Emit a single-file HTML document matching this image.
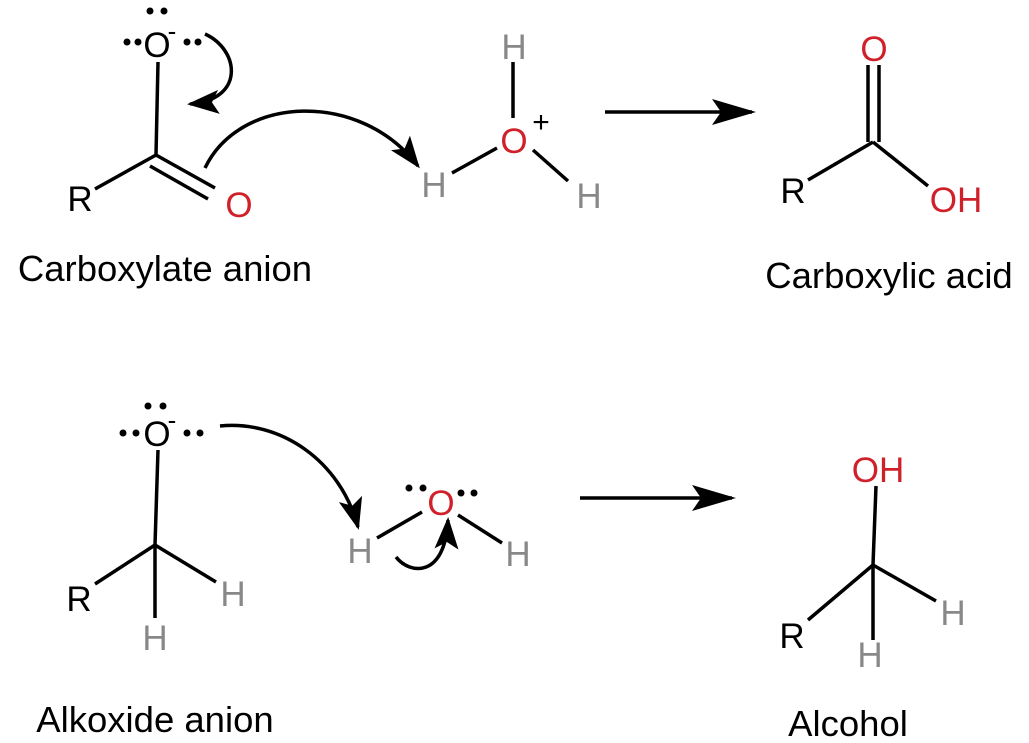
<!DOCTYPE html>
<html><head><style>body{margin:0;background:#fff}svg{display:block}text{font-family:"Liberation Sans",sans-serif}</style></head>
<body>
<svg width="1029" height="743" viewBox="0 0 1029 743" xmlns="http://www.w3.org/2000/svg">
<defs>
<marker id="ah2" markerWidth="44" markerHeight="26" refX="40" refY="13" orient="auto" markerUnits="userSpaceOnUse"><path d="M0,0 L44,13 L0,26 L9,13 Z" fill="#000"/></marker>
<marker id="ah3" markerWidth="32" markerHeight="24" refX="29" refY="12" orient="auto" markerUnits="userSpaceOnUse"><path d="M0,0 L32,12 L0,24 L7,12 Z" fill="#000"/></marker></defs>
<g stroke="#000" stroke-width="3.5" fill="none" stroke-linecap="butt">
<line x1="158" y1="62" x2="156" y2="155"/><line x1="156" y1="155" x2="95" y2="189"/>
<line x1="156" y1="155" x2="215" y2="188"/><line x1="150" y1="166" x2="208" y2="199"/>
<path d="M205,34 C240,50 245,100 190,104" marker-end="url(#ah3)"/>
<path d="M205,168 C240,95 360,90 418,166" marker-end="url(#ah3)"/>
<line x1="513" y1="62" x2="513" y2="118"/><line x1="452" y1="173" x2="497" y2="148"/><line x1="533" y1="150" x2="568" y2="181"/>
<line x1="605" y1="112" x2="752" y2="112" marker-end="url(#ah2)"/>
<line x1="868" y1="65" x2="868" y2="142"/><line x1="879" y1="65" x2="879" y2="142"/>
<line x1="873" y1="142" x2="808" y2="180"/><line x1="873" y1="142" x2="928" y2="186"/>
<line x1="158" y1="450" x2="155" y2="545"/><line x1="155" y1="545" x2="95" y2="584"/>
<line x1="155" y1="545" x2="216" y2="582"/><line x1="155" y1="545" x2="155" y2="618"/>
<path d="M220,426 C280,420 340,460 358,527" marker-end="url(#ah3)"/>
<line x1="377" y1="538" x2="422" y2="512"/><line x1="458" y1="515" x2="502" y2="543"/>
<path d="M396,557 C410,575 445,578 448,520" marker-end="url(#ah3)"/>
<line x1="580" y1="498" x2="732" y2="498" marker-end="url(#ah2)"/>
<line x1="876" y1="486" x2="873" y2="565"/><line x1="873" y1="565" x2="808" y2="620"/>
<line x1="873" y1="565" x2="936" y2="601"/><line x1="873" y1="565" x2="873" y2="640"/>
</g>
<g fill="#000">
<circle cx="150" cy="11" r="3.5"/><circle cx="164" cy="11" r="3.5"/>
<circle cx="127" cy="42" r="3.5"/><circle cx="138" cy="42" r="3.5"/>
<circle cx="187" cy="42" r="3.5"/><circle cx="198" cy="42" r="3.5"/>
<circle cx="148" cy="406" r="3.5"/><circle cx="163" cy="406" r="3.5"/>
<circle cx="123" cy="433" r="3.5"/><circle cx="136" cy="433" r="3.5"/>
<circle cx="187" cy="433" r="3.5"/><circle cx="200" cy="433" r="3.5"/>
<circle cx="409" cy="488" r="3.5"/><circle cx="423" cy="488" r="3.5"/>
<circle cx="461" cy="493" r="3.5"/><circle cx="474" cy="493" r="3.5"/>
</g>
<g font-size="35" text-anchor="middle">
<text x="157" y="57">O</text><text x="172" y="40" font-size="26">-</text>
<text x="80" y="211">R</text><text x="239" y="217" fill="#d0202a">O</text>
<text x="514" y="59" fill="#888">H</text><text x="514" y="153" fill="#d0202a">O</text><text x="541" y="132" font-size="30">+</text>
<text x="434" y="197" fill="#888">H</text><text x="589" y="208" fill="#888">H</text>
<text x="874" y="61" fill="#d0202a">O</text><text x="793" y="203">R</text><text x="956" y="212" fill="#d0202a">OH</text>
<text x="157" y="446">O</text><text x="172" y="429" font-size="26">-</text>
<text x="79" y="611">R</text><text x="233" y="606" fill="#888">H</text><text x="155" y="650" fill="#888">H</text>
<text x="441" y="515" fill="#d0202a">O</text><text x="360" y="563" fill="#888">H</text><text x="518" y="566" fill="#888">H</text>
<text x="878" y="482" fill="#d0202a">OH</text><text x="792" y="648">R</text><text x="953" y="625" fill="#888">H</text><text x="870" y="667" fill="#888">H</text>
</g>
<g font-size="36.5" text-anchor="middle">
<text x="165" y="281">Carboxylate anion</text>
<text x="889" y="288">Carboxylic acid</text>
<text x="155" y="732">Alkoxide anion</text>
<text x="848" y="736">Alcohol</text>
</g>
</svg>
</body></html>
